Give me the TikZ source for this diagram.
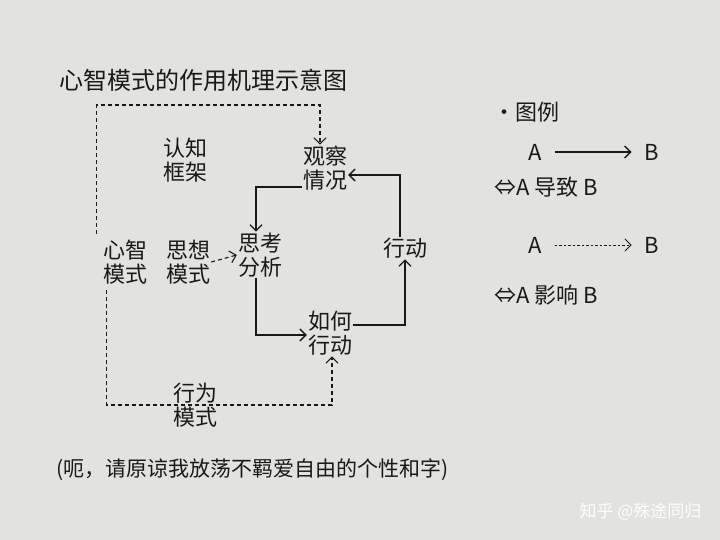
\documentclass[tikz,border=0pt]{standalone}
\usepackage{fontspec}
\setmainfont{Noto Sans CJK SC}
\usetikzlibrary{arrows.meta}
\definecolor{paper}{RGB}{226,226,222}
\definecolor{ink}{RGB}{25,25,25}
\begin{document}
\begin{tikzpicture}[x=1pt,y=-1pt,
  lbl/.style={text=ink,font=\fontsize{22}{24}\selectfont,align=center,inner sep=1pt},
  sol/.style={ink,line width=1.3pt,-{Straight Barb[length=6pt]}},
  dsh/.style={ink,line width=1.1pt,dash pattern=on 4pt off 3pt,-{Straight Barb[length=6pt]}}]
\fill[paper] (0,0) rectangle (720,540);
\useasboundingbox (0,0) rectangle (720,540);
\node[lbl,anchor=west,font=\fontsize{24}{26}\selectfont] (title) at (58,80) {心智模式的作用机理示意图};
\node[lbl] (renzhi) at (185,160) {认知\\框架};
\node[lbl] (guancha) at (325,168) {观察\\情况};
\node[lbl] (xinzhi) at (125,262) {心智\\模式};
\node[lbl] (sixiang) at (188,262) {思想\\模式};
\node[lbl] (sikao) at (260,255) {思考\\分析};
\node[lbl] (xingdong) at (405,248) {行动};
\node[lbl] (ruhe) at (330,333) {如何\\行动};
\node[lbl] (xingwei) at (195,405) {行为\\模式};
% dashed from 心智模式
\coordinate (c1) at (118,105); \coordinate (c2) at (320,105);
\draw[dsh] (xinzhi.north west) ++(-5,-5) coordinate(s1) -- (s1|-c1) -- (c2) -- (c2|-guancha.north);
\coordinate (c3) at (128,405); \coordinate (c4) at (332,405);
\draw[dsh] (xinzhi.south west) ++(5,5) coordinate(s2) -- (s2|-c3) -- (c4) -- (c4|-ruhe.south);
\draw[dsh] (sixiang.east) -- (sikao.west);
% solid loop
\coordinate (d1) at (256,187);
\draw[sol] (guancha.west|-d1) -- (d1) -- (d1|-sikao.north);
\coordinate (d2) at (256,335);
\draw[sol] (d2|-sikao.south) -- (d2) -- (ruhe.west|-d2);
\coordinate (d3) at (405,325);
\draw[sol] (ruhe.east|-d3) -- (d3) -- (d3|-xingdong.south);
\coordinate (d4) at (400,175);
\draw[sol] (d4|-xingdong.north) -- (d4) -- (guancha.east|-d4);
% legend
\node[lbl,anchor=west] (tuli) at (492,112) {•图例};
\node[lbl] (la) at (535,152) {A};
\node[lbl] (lb) at (652,152) {B};
\draw[sol] ([xshift=12pt]la.east) -- ([xshift=-12pt]lb.west);
\node[lbl,anchor=west] (l1) at (493,187) {⇔A 导致 B};
\node[lbl] (la2) at (535,245) {A};
\node[lbl] (lb2) at (652,245) {B};
\draw[dsh,dash pattern=on 2.5pt off 2pt,line width=0.9pt] ([xshift=12pt]la2.east) -- ([xshift=-12pt]lb2.west);
\node[lbl,anchor=west] (l2) at (493,295) {⇔A 影响 B};
\node[lbl,anchor=west,font=\fontsize{21}{23}\selectfont] (note) at (55,470) {(呃，请原谅我放荡不羁爱自由的个性和字)};
\node[anchor=east,text=white,font=\fontsize{17}{19}\selectfont] (wm) at (705,512) {知乎 @殊途同归};
\end{tikzpicture}
\end{document}
